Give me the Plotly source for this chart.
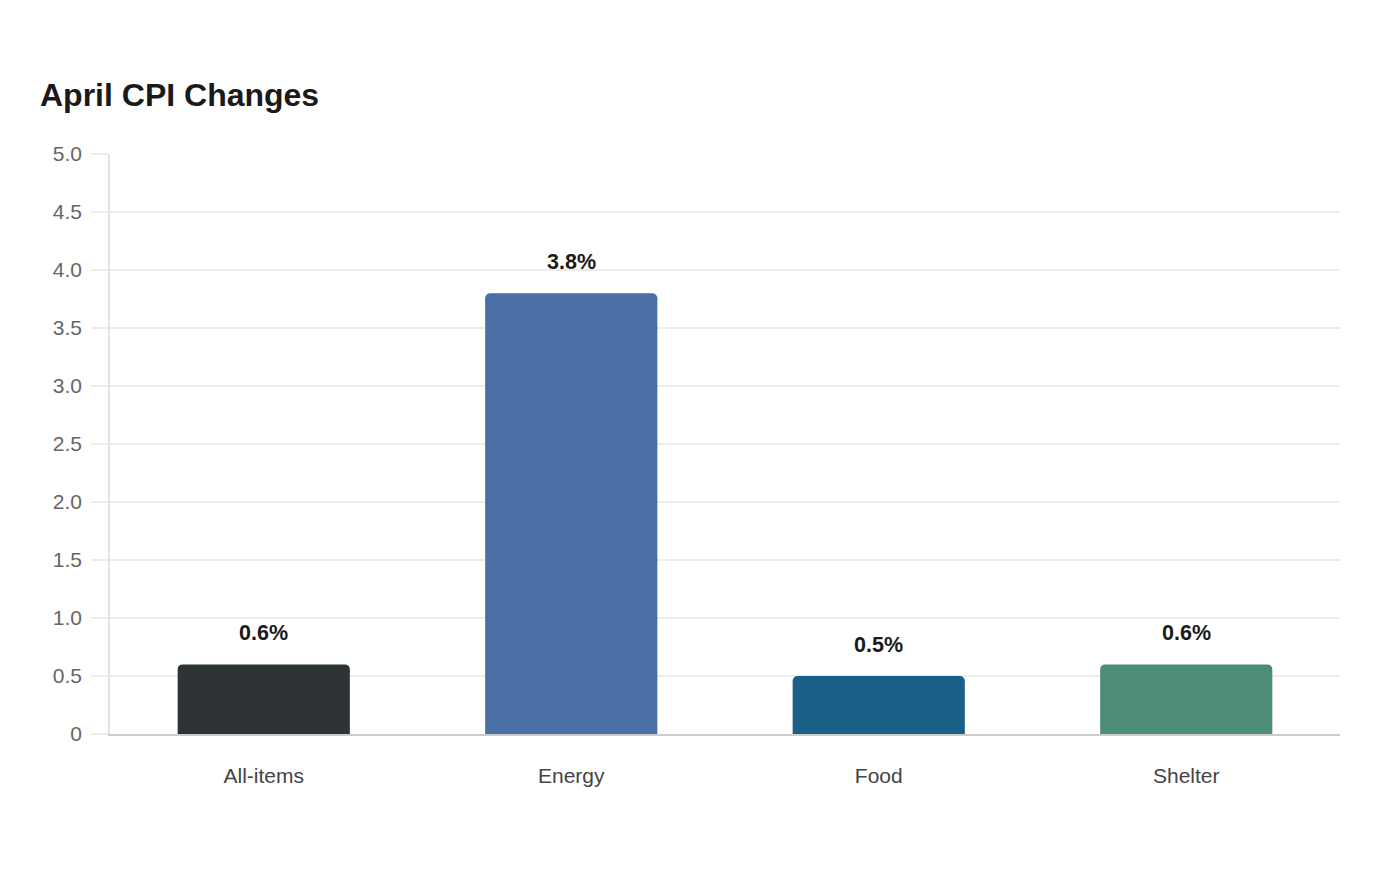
import plotly.graph_objects as go

categories = ["All-items", "Energy", "Food", "Shelter"]
values = [0.6, 3.8, 0.5, 0.6]
labels = ["0.6%", "3.8%", "0.5%", "0.6%"]
colors = ["#2e3436", "#4a6fa5", "#1a5f87", "#4e8c7a"]
y_tickvals = [0, 0.5, 1.0, 1.5, 2.0, 2.5, 3.0, 3.5, 4.0, 4.5, 5.0]
y_ticktext = ["0", "0.5", "1.0", "1.5", "2.0", "2.5", "3.0", "3.5", "4.0", "4.5", "5.0"]

FONT = "Liberation Sans, Arial, sans-serif"

fig = go.Figure()
fig.add_trace(go.Bar(
    x=categories, y=values, marker=dict(color=colors, line=dict(width=0)),
    hoverinfo="x+y",
))

for c, v, t in zip(categories, values, labels):
    fig.add_annotation(x=c, y=v, text=t, showarrow=False, yanchor="bottom",
                       yshift=17, font=dict(family=FONT, size=21.5, color="#1a1a1a", weight="bold"))

fig.update_layout(
    width=1400, height=880,
    margin=dict(l=110, r=60, t=154, b=146),
    paper_bgcolor="white", plot_bgcolor="white",
    bargap=0.44, barcornerradius=5,
    showlegend=False,
    font=dict(family=FONT),
    title=dict(text="<b>April CPI Changes</b>", x=40/1400, xref="container", xanchor="left",
               y=1-95/880, yref="container", yanchor="middle",
               font=dict(family=FONT, size=32, color="#1a1a1a")),
    xaxis=dict(showgrid=False, showline=True, linecolor="#cccccc", linewidth=1.5,
               ticks="", tickfont=dict(family=FONT, size=21, color="#444444"),
               ticklabelstandoff=22, zeroline=False),
    yaxis=dict(range=[0, 5.0], tickvals=y_tickvals, ticktext=y_ticktext,
               showgrid=True, gridcolor="#ececec", gridwidth=1.5,
               showline=True, linecolor="#e3e3e3", linewidth=1.5,
               ticks="outside", ticklen=17, tickcolor="#ececec", tickwidth=1.5,
               tickfont=dict(family=FONT, size=21, color="#666666"),
               ticklabelstandoff=5, zeroline=False),
)

fig.write_html("out.html")
